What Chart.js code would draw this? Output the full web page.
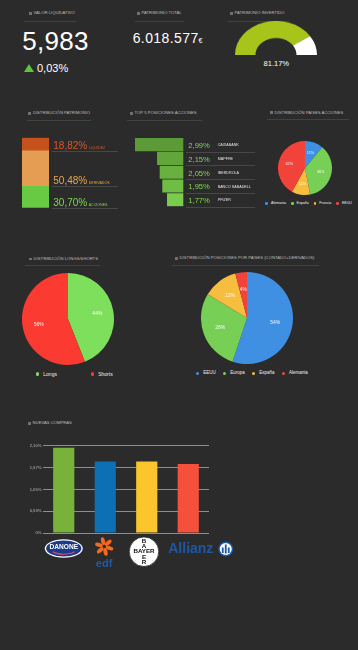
<!DOCTYPE html>
<html><head><meta charset="utf-8">
<script src="https://cdn.jsdelivr.net/npm/chart.js@4.4.0/dist/chart.umd.min.js"></script>
<style>
html,body{margin:0;padding:0;background:#2b2b2b;width:358px;height:650px;overflow:hidden;font-family:"Liberation Sans",Arial,sans-serif;}
.t{position:absolute;line-height:1;white-space:nowrap;color:#fff}
.title{position:absolute;font-size:4.2px;color:#bdbdbd;line-height:1;white-space:nowrap}
.bullet{position:absolute;width:2.6px;height:2.6px;background:#707070}
.rule{position:absolute;height:1px;background:#424242}
canvas{position:absolute;}
.legend{position:absolute;display:flex;align-items:center;white-space:nowrap;color:#eee;line-height:1}
.legend .item{display:flex;align-items:center}
.legend .dot{border-radius:50%;display:inline-block}
</style></head><body>
<script>
// ---------- DATA ----------
const valorLiquidativo = '5,983';
const variacion = '0,03%';
const patrimonioTotal = '6.018.577';
const invertidoLabels = ['Invertido', 'No invertido'];
const invertidoValues = [81.17, 18.83];
const distLabels = ['LIQUIDEZ', 'DERIVADOS', 'ACCIONES'];
const distValues = [18.82, 50.48, 30.70];
const topNames = ['CAIXABANK', 'MAPFRE', 'IBERDROLA', 'BANCO SABADELL', 'PFIZER'];
const topValues = [2.99, 2.15, 2.05, 1.95, 1.77];
const paisesAccLabels = ['Alemania', 'España', 'Francia', 'EEUU'];
const paisesAccValues = [11, 36, 11, 42];
const lsLabels = ['Longs', 'Shorts'];
const lsValues = [44, 56];
const paisesPosLabels = ['EEUU', 'Europa', 'España', 'Alemania'];
const paisesPosValues = [54, 28, 12, 4];
const comprasLabels = ['Danone', 'EDF', 'Bayer', 'Allianz'];
const comprasValues = [2.05, 1.72, 1.72, 1.66];
const comprasTicks = ['0%', '0,53%', '1,05%', '1,57%', '2,10%'];

// ---------- STYLE ----------
const FONT = '"Liberation Sans", Arial, sans-serif';
const C = {blue:'#3f8fe2', green:'#77cf55', yellow:'#f6bd3e', red:'#f2433b'};
const distColors = ['#c5521d', '#e49d52', '#68c943'];
const distTextColors = ['#d9582a', '#eaa64c', '#7ad950'];
const topColors = ['#5c9a37', '#62a53b', '#68b13f', '#6fbd44', '#7acd4c'];
const comprasColors = ['#79b23a', '#0d6fb4', '#fbc52d', '#f4503c'];

Chart.defaults.font.family = FONT;
Chart.defaults.animation = false;
Chart.defaults.events = [];
Chart.defaults.plugins.legend.display = false;
Chart.defaults.plugins.tooltip.enabled = false;
Chart.defaults.responsive = false;

function el(tag, cls, css, text){
  const e = document.createElement(tag);
  if (cls) e.className = cls;
  Object.assign(e.style, css || {});
  if (text != null) e.textContent = text;
  document.body.appendChild(e);
  return e;
}
function canvas(x, y, w, h){
  const c = document.createElement('canvas');
  c.width = w; c.height = h;
  c.style.left = x + 'px'; c.style.top = y + 'px';
  document.body.appendChild(c);
  return c;
}

// ---------- TITLES ----------
const titles = [
  ['VALOR LIQUIDATIVO', 29, 13.3, 24, 76, 20.5],
  ['PATRIMONIO TOTAL', 137, 13.3, 135, 184, 20.5],
  ['PATRIMONIO INVERTIDO', 230, 13.3, 228, 289, 20.5],
  ['DISTRIBUCIÓN PATRIMONIO', 28.3, 113.3, 27, 91, 119.5],
  ['TOP 5 POSICIONES ACCIONES', 130, 113.3, 127, 202, 119.5],
  ['DISTRIBUCIÓN PAISES ACCIONES', 270, 112.7, 267, 349, 118.5],
  ['DISTRIBUCIÓN LONGS/SHORTS', 29, 259, 25, 100, 265],
  ['DISTRIBUCIÓN POSICIONES POR PAISES (CONTADO+DERIVADOS)', 175, 258.3, 172, 319, 265],
  ['NUEVAS COMPRAS', 28, 423.3, null, null, null]
];
titles.forEach(([txt, bx, cy, r1, r2, ry]) => {
  el('div', 'bullet', {left: bx + 'px', top: (cy - 1.3) + 'px'});
  el('div', 'title', {left: (bx + 4.6) + 'px', top: (cy - 2.05) + 'px'}, txt);
  if (r1 != null) el('div', 'rule', {left: r1 + 'px', top: ry + 'px', width: (r2 - r1) + 'px'});
});

// ---------- KPIs ----------
el('div', 't', {left: '22.3px', top: '28px', fontSize: '26px', letterSpacing: '0.3px'}, valorLiquidativo);
el('div', '', {position: 'absolute', left: '24px', top: '64.3px', width: 0, height: 0,
  borderLeft: '5.35px solid transparent', borderRight: '5.35px solid transparent', borderBottom: '8.4px solid #5ec43c'});
el('div', 't', {left: '37px', top: '63.4px', fontSize: '11px'}, variacion);
const pt = el('div', 't', {left: '132.7px', top: '30.8px', fontSize: '14px', letterSpacing: '0.4px'}, patrimonioTotal);
const eur = document.createElement('span'); eur.textContent = '€'; eur.style.fontSize = '7px'; eur.style.letterSpacing = '0';
pt.appendChild(eur);
el('div', 't', {left: '256.3px', top: '60.3px', width: '40px', textAlign: 'center', fontSize: '7.5px'},
  invertidoValues[0].toFixed(2) + '%');

// ---------- GAUGE ----------
const gc = canvas(235.3, 14, 82, 41);
gc.style.transform = 'scaleY(0.83)'; gc.style.transformOrigin = '50% 100%';
new Chart(gc, {
  type: 'doughnut',
  data: {labels: invertidoLabels, datasets: [{data: invertidoValues, backgroundColor: ['#a7c41b', '#ffffff'], borderWidth: 0}]},
  options: {circumference: 180, rotation: -90, cutout: '50%', layout: {padding: 0}}
});

// ---------- DISTRIBUCION PATRIMONIO (stacked bar) ----------
const fmt = v => v.toFixed(2).replace('.', ',') + '%';
const stackLabels = {
  id: 'stackLabels',
  afterDatasetsDraw(chart){
    const ctx = chart.ctx;
    chart.data.datasets.forEach((ds, i) => {
      const b = chart.getDatasetMeta(i).data[0];
      const bottom = Math.max(b.y, b.base);
      ctx.save();
      ctx.strokeStyle = '#474747'; ctx.lineWidth = 1;
      ctx.beginPath(); ctx.moveTo(52, Math.round(bottom) + 0.5); ctx.lineTo(118, Math.round(bottom) + 0.5); ctx.stroke();
      ctx.fillStyle = ds.textColor; ctx.textBaseline = 'alphabetic'; ctx.textAlign = 'left';
      ctx.font = '10px ' + FONT;
      const s = fmt(ds.data[0]);
      ctx.fillText(s, 53.3, bottom - 2);
      const w = ctx.measureText(s).width;
      ctx.font = '3.6px ' + FONT;
      ctx.fillText(ds.label, 53.3 + w + 1.5, bottom - 2);
      ctx.restore();
    });
  }
};
const distDatasets = distLabels.map((l, i) => ({label: l, data: [distValues[i]], backgroundColor: distColors[i], textColor: distTextColors[i], borderWidth: 0})).reverse();
new Chart(canvas(0, 130, 125, 85), {
  type: 'bar',
  data: {labels: [''], datasets: distDatasets},
  options: {
    layout: {padding: {left: 22, right: 76, top: 7.7, bottom: 7.3}},
    datasets: {bar: {barPercentage: 1, categoryPercentage: 1}},
    scales: {x: {display: false, stacked: true}, y: {display: false, stacked: true, min: 0, max: 100}}
  },
  plugins: [stackLabels]
});

// ---------- TOP 5 (funnel) ----------
const funnelLabels = {
  id: 'funnelLabels',
  afterDatasetsDraw(chart){
    const ctx = chart.ctx; const meta = chart.getDatasetMeta(0);
    meta.data.forEach((b, i) => {
      const bottom = b.y + 7;
      ctx.save();
      ctx.strokeStyle = '#474747'; ctx.lineWidth = 1;
      ctx.beginPath(); ctx.moveTo(61, Math.round(bottom) + 0.5); ctx.lineTo(130, Math.round(bottom) + 0.5); ctx.stroke();
      ctx.fillStyle = '#7fda52'; ctx.font = '7.6px ' + FONT; ctx.textAlign = 'left'; ctx.textBaseline = 'alphabetic';
      ctx.fillText(fmt(chart.data.datasets[0].data[i]), 63.3, bottom - 3.6);
      ctx.fillStyle = '#e2e2e2'; ctx.font = '3.7px ' + FONT;
      ctx.fillText(chart.data.labels[i], 92.7, bottom - 5.5);
      ctx.restore();
    });
  }
};
new Chart(canvas(125, 130, 135, 85), {
  type: 'bar',
  data: {labels: topNames, datasets: [{data: topValues, backgroundColor: topColors, borderWidth: 0}]},
  options: {
    indexAxis: 'y',
    layout: {padding: {left: 10, right: 76.7, top: 7.7, bottom: 8.3}},
    datasets: {bar: {barPercentage: 0.95, categoryPercentage: 1}},
    scales: {x: {display: false, reverse: true, min: 1.15, max: 2.99}, y: {display: false}}
  },
  plugins: [funnelLabels]
});

// ---------- PIES ----------
const pieLabels = {
  id: 'pieLabels',
  afterDatasetsDraw(chart, args, opts){
    const ctx = chart.ctx; const meta = chart.getDatasetMeta(0); const ds = chart.data.datasets[0];
    ctx.save();
    ctx.font = opts.size + 'px ' + FONT; ctx.fillStyle = 'rgba(255,255,255,0.92)';
    ctx.textAlign = 'center'; ctx.textBaseline = 'middle';
    meta.data.forEach((arc, i) => {
      const a = (arc.startAngle + arc.endAngle) / 2; const r = arc.outerRadius * opts.r;
      ctx.fillText(ds.data[i] + '%', arc.x + Math.cos(a) * r, arc.y + Math.sin(a) * r);
    });
    ctx.restore();
  }
};
function pie(x, y, size, labels, values, colors, fontSize, rf){
  return new Chart(canvas(x, y, size, size), {
    type: 'pie',
    data: {labels: labels, datasets: [{data: values, backgroundColor: colors, borderWidth: 0}]},
    options: {layout: {padding: 0}, plugins: {pieLabels: {size: fontSize, r: rf}}},
    plugins: [pieLabels]
  });
}
function htmlLegend(chart, x, cy, font, dot, gap, textGap){
  const ds = chart.data.datasets[0];
  const box = el('div', 'legend', {left: x + 'px', top: (cy - font / 2) + 'px', fontSize: font + 'px', gap: gap + 'px', height: font + 'px'});
  chart.data.labels.forEach((lab, i) => {
    const it = document.createElement('div'); it.className = 'item';
    const d = document.createElement('span'); d.className = 'dot';
    d.style.width = dot + 'px'; d.style.height = dot + 'px'; d.style.background = ds.backgroundColor[i]; d.style.marginRight = textGap + 'px';
    const t = document.createElement('span'); t.textContent = lab;
    it.append(d, t); box.append(it);
  });
}
const pAcc = pie(278, 141, 54, paisesAccLabels, paisesAccValues, [C.blue, C.green, C.yellow, C.red], 3.8, 0.6);
htmlLegend(pAcc, 265.4, 203.3, 3.6, 2.6, 5, 3);
const pLS = pie(22, 273, 92, lsLabels, lsValues, ['#7ddf5c', '#fb3b31'], 5, 0.65);
htmlLegend(pLS, 36, 374, 5, 3.3, 34, 4);
const pPos = pie(201, 272, 92, paisesPosLabels, paisesPosValues, [C.blue, C.green, C.yellow, C.red], 5, 0.62);
htmlLegend(pPos, 196, 373.3, 4.5, 3.3, 7.2, 4);

// ---------- NUEVAS COMPRAS ----------
const logoDrawers = {
  Danone(ctx, cx, b){
    const y = b + 15.5;
    ctx.beginPath(); ctx.ellipse(cx, y, 19, 9.3, 0, 0, Math.PI * 2); ctx.fillStyle = '#ffffff'; ctx.fill();
    ctx.beginPath(); ctx.ellipse(cx, y, 17.6, 8, 0, 0, Math.PI * 2); ctx.fillStyle = '#1b3a8c'; ctx.fill();
    ctx.beginPath(); ctx.ellipse(cx, y + 0.5, 13, 5.2, 0, 0.18 * Math.PI, 0.82 * Math.PI);
    ctx.strokeStyle = '#e04a6a'; ctx.lineWidth = 1.1; ctx.stroke();
    ctx.fillStyle = '#fff'; ctx.font = 'bold 6.6px ' + FONT; ctx.textAlign = 'center'; ctx.textBaseline = 'middle';
    ctx.fillText('DANONE', cx, y - 1.2);
  },
  EDF(ctx, cx, b){
    const x0 = cx - 1, y0 = b + 13.5;
    ctx.fillStyle = '#f36a1f';
    for (let k = 0; k < 6; k++){
      const a = k * Math.PI / 3 + 0.3;
      ctx.beginPath(); ctx.ellipse(x0 + Math.cos(a) * 5.5, y0 + Math.sin(a) * 5.5, 4, 2, a, 0, Math.PI * 2); ctx.fill();
    }
    ctx.fillStyle = '#1c5bab'; ctx.font = 'bold 11px ' + FONT; ctx.textAlign = 'center'; ctx.textBaseline = 'alphabetic';
    ctx.fillText('edf', cx - 1.2, b + 33.7);
  },
  Bayer(ctx, cx, b){
    const x0 = cx - 2.75, y0 = b + 18.7;
    ctx.beginPath(); ctx.arc(x0, y0, 14.8, 0, Math.PI * 2); ctx.fillStyle = '#fff'; ctx.fill();
    ctx.strokeStyle = '#222'; ctx.lineWidth = 0.8; ctx.stroke();
    ctx.fillStyle = '#111'; ctx.font = 'bold 6.2px ' + FONT; ctx.textAlign = 'center'; ctx.textBaseline = 'middle';
    ctx.fillText('BAYER', x0, y0);
    const v = ['B', 'A', '', 'E', 'R'];
    v.forEach((ch, k) => { if (ch) ctx.fillText(ch, x0, y0 + (k - 2) * 5.4); });
  },
  Allianz(ctx, cx, b){
    ctx.fillStyle = '#1e57a6'; ctx.font = 'bold 14px ' + FONT; ctx.textAlign = 'left'; ctx.textBaseline = 'alphabetic';
    ctx.fillText('Allianz', cx - 20, b + 20.3);
    const ix = cx + 37.5, iy = b + 16;
    ctx.beginPath(); ctx.arc(ix, iy, 7.5, 0, Math.PI * 2); ctx.fill();
    ctx.beginPath(); ctx.arc(ix, iy, 6, 0, Math.PI * 2); ctx.fillStyle = '#fff'; ctx.fill();
    ctx.fillStyle = '#1e57a6';
    ctx.fillRect(ix - 3.9, iy - 1.5, 1.8, 5.5);
    ctx.fillRect(ix - 0.9, iy - 4.5, 1.8, 9);
    ctx.fillRect(ix + 2.1, iy - 1.5, 1.8, 5.5);
  }
};
const logoPlugin = {
  id: 'logos',
  afterDraw(chart){
    const ctx = chart.ctx, xs = chart.scales.x, base = chart.chartArea.bottom;
    chart.data.labels.forEach((name, i) => {
      ctx.save(); (logoDrawers[name] || (() => {}))(ctx, xs.getPixelForValue(i), base); ctx.restore();
    });
  }
};
new Chart(canvas(0, 435, 240, 145), {
  type: 'bar',
  data: {labels: comprasLabels, datasets: [{data: comprasValues, backgroundColor: comprasColors, borderWidth: 0}]},
  options: {
    layout: {padding: {left: 0, right: 31, top: 10.7, bottom: 47}},
    datasets: {bar: {barPercentage: 0.51, categoryPercentage: 1}},
    scales: {
      x: {display: false},
      y: {
        min: 0, max: 2.1,
        border: {display: false},
        grid: {color: '#8e8e8e', lineWidth: 1, drawTicks: false},
        ticks: {stepSize: 0.525, padding: 1.5, color: '#bdbdbd', font: {size: 4.2}, callback: (v, i) => comprasTicks[i]},
        afterFit: s => { s.width = 43; }
      }
    }
  },
  plugins: [logoPlugin]
});
</script>
</body></html>
